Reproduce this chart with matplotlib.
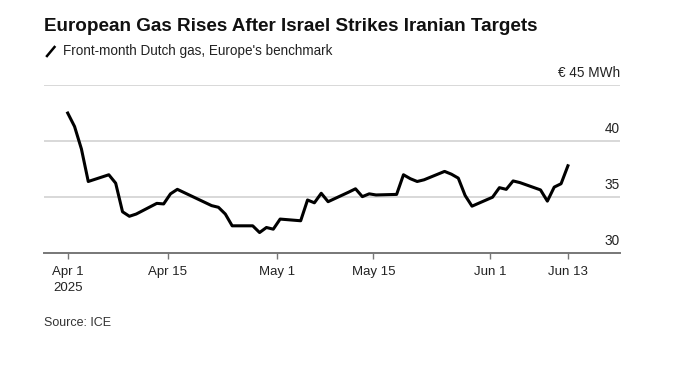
import numpy as np
import matplotlib
matplotlib.use("Agg")
import matplotlib.pyplot as plt
import matplotlib.dates as mdates
from matplotlib.lines import Line2D

# front-month Dutch TTF, EUR/MWh
dates = ["2025-04-01", "2025-04-02", "2025-04-03", "2025-04-04",
         "2025-04-07", "2025-04-08", "2025-04-09", "2025-04-10", "2025-04-11",
         "2025-04-14", "2025-04-15", "2025-04-16", "2025-04-17",
         "2025-04-22", "2025-04-23", "2025-04-24", "2025-04-25",
         "2025-04-28", "2025-04-29", "2025-04-30", "2025-05-01", "2025-05-02",
         "2025-05-05", "2025-05-06", "2025-05-07", "2025-05-08", "2025-05-09",
         "2025-05-12", "2025-05-13", "2025-05-14", "2025-05-15", "2025-05-16",
         "2025-05-19", "2025-05-20", "2025-05-21", "2025-05-22", "2025-05-23",
         "2025-05-26", "2025-05-27", "2025-05-28", "2025-05-29", "2025-05-30",
         "2025-06-02", "2025-06-03", "2025-06-04", "2025-06-05", "2025-06-06",
         "2025-06-09", "2025-06-10", "2025-06-11", "2025-06-12", "2025-06-13"]
prices = [42.5, 41.3, 39.3, 36.4,
          37.0, 36.25, 33.7, 33.3, 33.5,
          34.45, 34.4, 35.3, 35.7,
          34.25, 34.1, 33.5, 32.45,
          32.45, 31.85, 32.3, 32.15, 33.05,
          32.9, 34.75, 34.5, 35.35, 34.6,
          35.45, 35.75, 35.05, 35.3, 35.2,
          35.25, 37.0, 36.65, 36.4, 36.55,
          37.3, 37.05, 36.7, 35.15, 34.2,
          35.0, 35.85, 35.7, 36.45, 36.3,
          35.65, 34.65, 35.9, 36.2, 37.8]

tick_dates = ["2025-04-01", "2025-04-15", "2025-05-01", "2025-05-15", "2025-06-01", "2025-06-13"]
tick_labels = ["Apr 1\n2025", "Apr 15", "May 1", "May 15", "Jun 1", "Jun 13"]
y_ticks = [30, 35, 40, 45]
y_labels = ["30", "35", "40", "€ 45 MWh"]

plt.rcParams['font.family'] = ['Liberation Sans', 'DejaVu Sans']

x = mdates.datestr2num(dates)
W, H = 680, 371
fig = plt.figure(figsize=(W / 100, H / 100), dpi=100)
ax = fig.add_axes([44 / W, 1 - 253.3 / H, (620 - 44) / W, (253.3 - 85) / H])

ax.plot(x, prices, color='black', lw=2.2, solid_joinstyle='round', zorder=3)

x0 = x[0]
ax.set_xlim(x0 - 3.46, x0 + 80.6)
ax.set_ylim(30, 45)

# grid + labels
for v, lab in zip(y_ticks, y_labels):
    if v > 30:
        ax.axhline(v, color='#d6d6d6', lw=1.3, zorder=1)
    ax.text(1.0, v + 0.45, lab, transform=ax.get_yaxis_transform(),
            ha='right', va='bottom', fontsize=9.8, color='#222222')

for s in ['top', 'right', 'left']:
    ax.spines[s].set_visible(False)
ax.spines['bottom'].set_color('#777777')
ax.spines['bottom'].set_linewidth(1.4)
ax.set_yticks([])
# reference ticks sit a little right of midnight except the two ends
tk = mdates.datestr2num(tick_dates)
tk[1:-1] += 0.6
ax.set_xticks(tk)
ax.set_xticklabels(tick_labels, fontsize=9.5, color='#222222', linespacing=1.5)
ax.tick_params(axis='x', length=4, width=1, color='#777777', pad=5)

fig.text(44 / W, 1 - 26.5 / H, "European Gas Rises After Israel Strikes Iranian Targets",
         fontsize=13.6, fontweight='bold', color='#111111', va='center')
fig.add_artist(Line2D([47 / W, 54.5 / W], [1 - 56 / H, 1 - 47 / H],
                      color='black', lw=1.8, transform=fig.transFigure))
fig.text(62.5 / W, 1 - 51.5 / H, "Front-month Dutch gas, Europe's benchmark",
         fontsize=9.75, color='#222222', va='center')
fig.text(44 / W, 1 - 323 / H, "Source: ICE", fontsize=9, color='#333333', va='center')

fig.savefig("out.png", dpi=100, facecolor='white')
